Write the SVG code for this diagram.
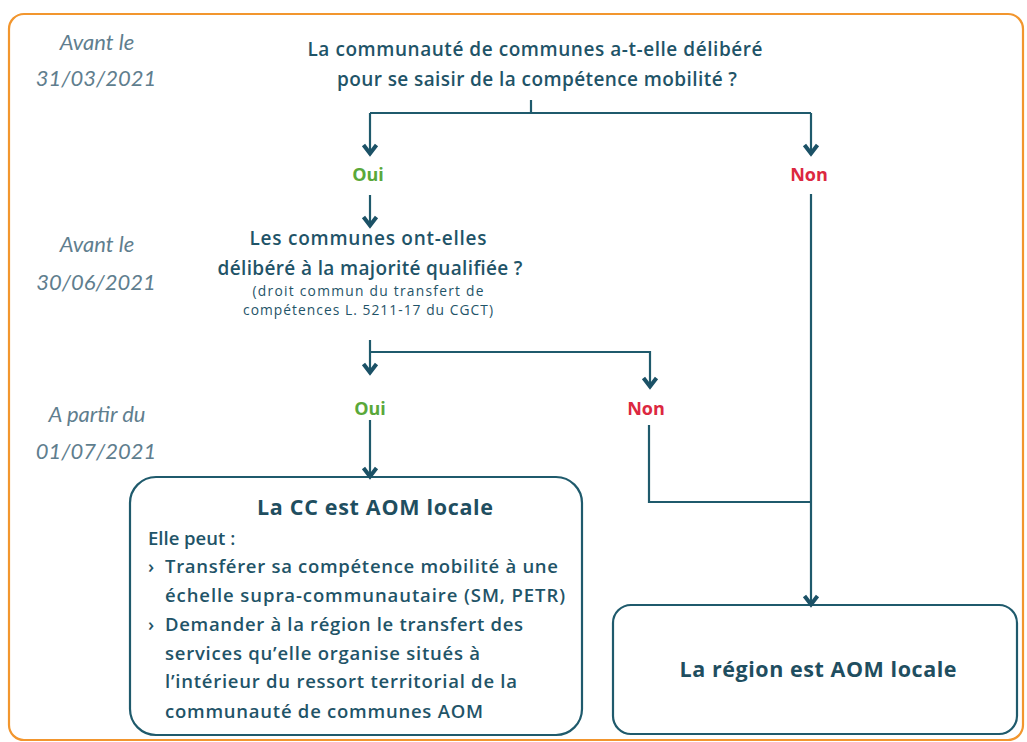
<svg xmlns="http://www.w3.org/2000/svg" width="1027" height="742" viewBox="0 0 1027 742">
<style>
.date{font-family:Lato,"Liberation Sans",sans-serif;font-style:italic;font-weight:400;font-size:22px;fill:#5f7e8e;text-anchor:middle}
.q{font-family:"Open Sans","Liberation Sans",sans-serif;font-weight:600;font-size:19px;fill:#1f5468;text-anchor:middle}
.small{font-family:"Open Sans","Liberation Sans",sans-serif;font-weight:500;font-size:13.8px;fill:#1f5468;text-anchor:middle}
.oui{font-family:"Open Sans","Liberation Sans",sans-serif;font-weight:700;font-size:18px;fill:#5aa83a;text-anchor:middle}
.non{font-family:"Open Sans","Liberation Sans",sans-serif;font-weight:700;font-size:18px;fill:#dc2840;text-anchor:middle}
.title{font-family:"Open Sans","Liberation Sans",sans-serif;font-weight:700;font-size:21.5px;fill:#1f4e60;text-anchor:middle}
.body{font-family:"Open Sans","Liberation Sans",sans-serif;font-weight:600;font-size:18.5px;fill:#1f5468}
.box{fill:#ffffff;stroke:#1f5a6c;stroke-width:2.2}
.conn path{fill:none;stroke:#1f5a6c;stroke-width:2.2}
.conn path.arr{marker-end:url(#chev)}
</style>
<defs>
<marker id="chev" markerUnits="userSpaceOnUse" markerWidth="20" markerHeight="20" refX="0" refY="0" orient="auto" overflow="visible">
<path d="M-10,-6.5 L-1.5,0 L-10,6.5" fill="none" stroke="#1b5166" stroke-width="4" stroke-linejoin="miter" stroke-linecap="butt"/>
</marker>
</defs>
<rect x="9" y="14" width="1014" height="726" rx="15" fill="#ffffff" stroke="#f2962e" stroke-width="2.2"/>
<g id="dates">
<text class="date" x="97" y="50">Avant le</text>
<text class="date" x="96" y="86">31/03/2021</text>
<text class="date" x="97" y="252">Avant le</text>
<text class="date" x="96" y="290">30/06/2021</text>
<text class="date" x="97" y="422">A partir du</text>
<text class="date" x="96" y="459">01/07/2021</text>
</g>
<g id="q1">
<text class="q" x="535" y="56" textLength="455">La communauté de communes a-t-elle délibéré</text>
<text class="q" x="537" y="86" textLength="400">pour se saisir de la compétence mobilité ?</text>
</g>
<g id="oui1"><text class="oui" x="368" y="181">Oui</text></g>
<g id="non1"><text class="non" x="809" y="181">Non</text></g>
<g id="q2">
<text class="q" x="368" y="245" textLength="237">Les communes ont-elles</text>
<text class="q" x="370" y="275" textLength="305">délibéré à la majorité qualifiée ?</text>
<text class="small" x="368" y="296" textLength="231">(droit commun du transfert de</text>
<text class="small" x="368" y="315" textLength="250">compétences L. 5211-17 du CGCT)</text>
</g>
<g id="oui2"><text class="oui" x="370" y="415">Oui</text></g>
<g id="non2"><text class="non" x="646" y="415">Non</text></g>
<g id="cc">
<rect class="box" x="130" y="477" width="452" height="258" rx="26"/>
<text class="title" x="375" y="515" textLength="236">La CC est AOM locale</text>
<text class="body" x="148" y="545">Elle peut :</text>
<text class="body" x="148" y="573">›</text>
<text class="body" x="165" y="573" textLength="393">Transférer sa compétence mobilité à une</text>
<text class="body" x="165" y="602" textLength="400">échelle supra-communautaire (SM, PETR)</text>
<text class="body" x="148" y="631">›</text>
<text class="body" x="165" y="631" textLength="358">Demander à la région le transfert des</text>
<text class="body" x="165" y="660" textLength="315">services qu’elle organise situés à</text>
<text class="body" x="165" y="688" textLength="352">l’intérieur du ressort territorial de la</text>
<text class="body" x="165" y="718" textLength="318">communauté de communes AOM</text>
</g>
<g id="region">
<rect class="box" x="613" y="605" width="404" height="129" rx="18"/>
<text class="title" x="818" y="677" font-size="22.5" textLength="277">La région est AOM locale</text>
</g>
<g id="connectors" class="conn">
<path d="M531 100 V113"/>
<path d="M370 113 H811"/>
<path class="arr" d="M370 113 V155"/>
<path class="arr" d="M811 113 V155"/>
<path class="arr" d="M370 195 V227"/>
<path class="arr" d="M370 340 V374"/>
<path class="arr" d="M370 352 H650 V388"/>
<path class="arr" d="M370 420 V478"/>
<path d="M649 425 V502 H811"/>
<path class="arr" d="M811 194 V606"/>
</g>
</svg>
